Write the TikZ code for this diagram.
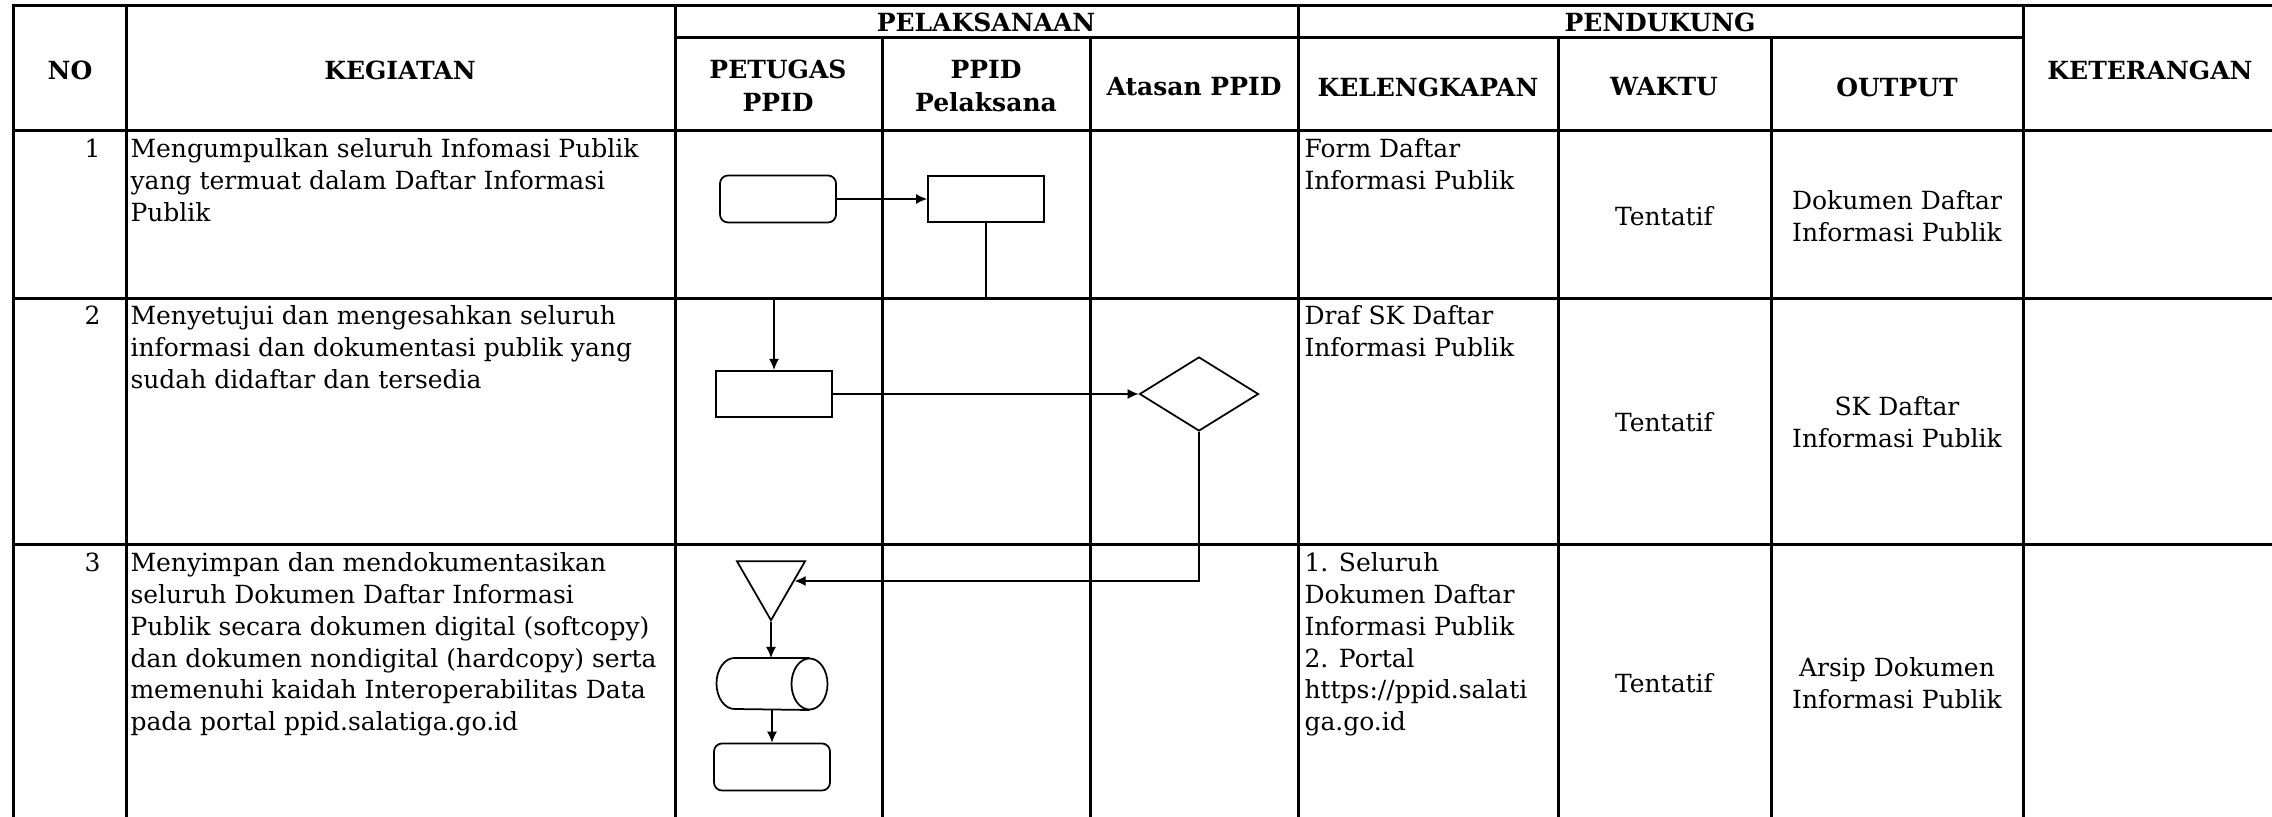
\documentclass[tikz,border=0pt]{standalone}
\usepackage{fontspec}
\setmainfont{DejaVu Serif}
\usetikzlibrary{arrows.meta,shapes.geometric}

\begin{document}
\begin{tikzpicture}[x=0.4pt, y=-0.4pt,
    garis/.style={line width=1.2pt},
    alur/.style={-{Latex[length=4.4pt,width=4pt]}, line width=0.5pt},
    bentuk/.style={line width=0.7pt},
    terminal/.style={draw, bentuk, rounded corners=3.2pt, minimum width=46.4pt, minimum height=18.8pt},
    proses/.style={draw, bentuk, minimum width=46.4pt, minimum height=18.6pt},
    keputusan/.style={draw, bentuk, diamond, inner sep=0pt, minimum width=47.6pt, minimum height=29.6pt},
    gabung/.style={draw, bentuk, regular polygon, regular polygon sides=3, shape border rotate=180, inner sep=0pt, minimum size=31.4pt},
    tabung/.style={inner sep=0pt, minimum width=44pt, minimum height=20.4pt},
    judul/.style={font=\fontsize{10}{13.2}\selectfont\bfseries, align=center, inner sep=0pt},
    isi/.style={font=\fontsize{10}{12.7}\selectfont, anchor=base west, align=left, inner sep=0pt},
    tengah/.style={font=\fontsize{10}{12.7}\selectfont, align=center, inner sep=0pt}
  ]
    \useasboundingbox (0,0) rectangle (2272,817);

    % Garis tabel
    \draw[garis] (13,830) -- (13,6) -- (2290,6);
    \draw[garis] (675,38) -- (2023,38);
    \draw[garis] (13,131) -- (2290,131);
    \draw[garis] (13,299) -- (2290,299);
    \draw[garis] (13,545) -- (2290,545);
    \foreach \x in {126,675,1298,2023} \draw[garis] (\x,6) -- (\x,830);
    \foreach \x in {882,1090,1558,1771} \draw[garis] (\x,38) -- (\x,830);

    % Kepala tabel
    \node[judul] (hNo) at (70,70) {NO};
    \node[judul] (hKeg) at (400,70) {KEGIATAN};
    \node[judul] (hPel) at (986,22) {PELAKSANAAN};
    \node[judul] (hPen) at (1660,22) {PENDUKUNG};
    \node[judul] (hPet) at (778,86) {PETUGAS\\PPID};
    \node[judul] (hPpid) at (986,86) {PPID\\Pelaksana};
    \node[judul] (hAts) at (1194,87) {Atasan PPID};
    \node[judul] (hKel) at (1428,87) {KELENGKAPAN};
    \node[judul] (hWkt) at (1664,87) {WAKTU};
    \node[judul] (hOut) at (1897,87) {OUTPUT};
    \node[judul] (hKet) at (2150,70) {KETERANGAN};

    % Baris 1 (anchor pada baris terakhir)
    \node[isi, anchor=base east] (no1) at (101,158) {1};
    \node[isi] (keg1) at (130,221.5) {Mengumpulkan seluruh Infomasi Publik\\yang termuat dalam Daftar Informasi\\Publik};
    \node[isi] (kel1) at (1304,189.75) {Form Daftar\\Informasi Publik};
    \node[tengah] (wkt1) at (1664,216) {Tentatif};
    \node[tengah] (out1) at (1897,216) {Dokumen Daftar\\Informasi Publik};

    % Baris 2
    \node[isi, anchor=base east] (no2) at (101,325) {2};
    \node[isi] (keg2) at (130,388.5) {Menyetujui dan mengesahkan seluruh\\informasi dan dokumentasi publik yang\\sudah didaftar dan tersedia};
    \node[isi] (kel2) at (1304,356.75) {Draf SK Daftar\\Informasi Publik};
    \node[tengah] (wkt2) at (1664,422) {Tentatif};
    \node[tengah] (out2) at (1897,422) {SK Daftar\\Informasi Publik};

    % Baris 3
    \node[isi, anchor=base east] (no3) at (101,572) {3};
    \node[isi] (keg3) at (130,730.75) {Menyimpan dan mendokumentasikan\\seluruh Dokumen Daftar Informasi\\Publik secara dokumen digital (softcopy)\\dan dokumen nondigital (hardcopy) serta\\memenuhi kaidah Interoperabilitas Data\\pada portal ppid.salatiga.go.id};
    \node[isi] (kel3) at (1304,730.75) {1. Seluruh\\Dokumen Daftar\\Informasi Publik\\2. Portal\\https://ppid.salati\\ga.go.id};
    \node[tengah] (wkt3) at (1664,683) {Tentatif};
    \node[tengah] (out3) at (1897,683) {Arsip Dokumen\\Informasi Publik};

    % Bagan alir
    \node[terminal] (mulai) at (778,199) {};
    \node[proses] (kumpul) at (986,199) {};
    \node[proses] (setuju) at (774,394) {};
    \node[keputusan] (periksa) at (1199,394) {};
    \node[gabung] (simpan) at (771,581) {};
    \node[tabung] (arsip) at (772,684) {};
    \node[terminal] (selesai) at (772,767) {};

    % Tabung arsip
    \draw[bentuk] ([xshift=-7.2pt]arsip.north east) -- ([xshift=7.2pt]arsip.north west)
        arc[start angle=90, end angle=270, x radius=7.2pt, y radius=10.2pt] -- ([xshift=-7.2pt]arsip.south east);
    \draw[bentuk] ([xshift=-7.2pt]arsip.east) ellipse[x radius=7.2pt, y radius=10.2pt];

    \draw[alur] (mulai) -- (kumpul);
    \draw[alur] (kumpul.south) -- ++(0,75) -| (setuju.north);
    \draw[alur] (setuju) -- (periksa);
    \draw[alur] (periksa.south) |- (simpan);
    \draw[alur] (simpan.corner 1) -- (simpan.corner 1 |- arsip.north);
    \draw[alur] (arsip.south) -- (selesai.north);
\end{tikzpicture}
\end{document}
